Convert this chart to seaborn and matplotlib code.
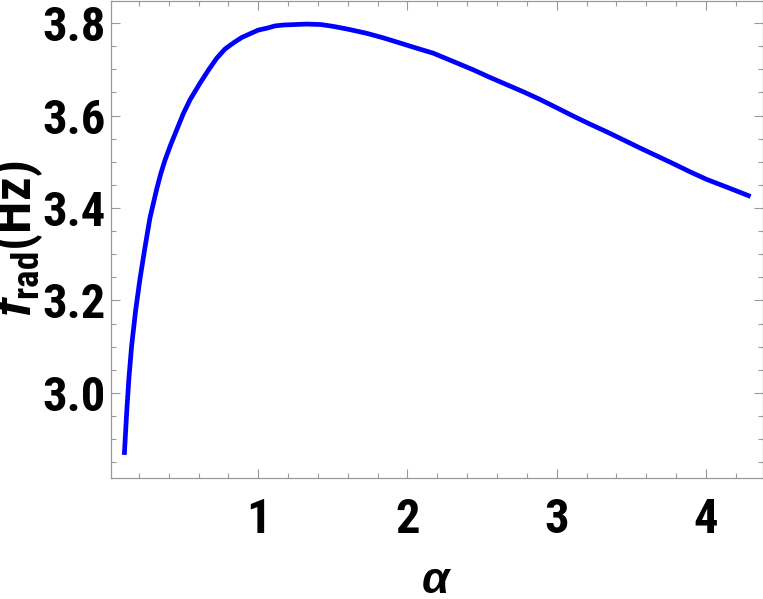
import numpy as np
import pandas as pd
import matplotlib
matplotlib.use("Agg")
import matplotlib.pyplot as plt
import seaborn as sns
from matplotlib import font_manager
from matplotlib.ticker import MultipleLocator

alpha = [0.102, 0.118, 0.133, 0.151, 0.178, 0.207, 0.241, 0.274, 0.319, 0.346,
         0.375, 0.414, 0.453, 0.497, 0.542, 0.609, 0.665, 0.721, 0.777, 0.832,
         0.889, 0.944, 1.000, 1.056, 1.112, 1.168, 1.246, 1.324, 1.420, 1.503,
         1.600, 1.727, 1.840, 1.950, 2.060, 2.173, 2.300, 2.441, 2.550, 2.665,
         2.780, 2.888, 3.000, 3.111, 3.220, 3.335, 3.450, 3.558, 3.670, 3.782,
         3.890, 4.005, 4.150, 4.300]
f_rad = [2.866, 2.959, 3.033, 3.102, 3.179, 3.247, 3.316, 3.379, 3.441, 3.474,
         3.504, 3.538, 3.569, 3.604, 3.634, 3.670, 3.698, 3.724, 3.744, 3.757,
         3.769, 3.777, 3.785, 3.789, 3.794, 3.796, 3.797, 3.798, 3.797, 3.793,
         3.787, 3.778, 3.768, 3.757, 3.746, 3.735, 3.718, 3.699, 3.683, 3.667,
         3.651, 3.635, 3.617, 3.599, 3.582, 3.565, 3.547, 3.530, 3.513, 3.496,
         3.479, 3.462, 3.444, 3.425]
x_ticks = [1, 2, 3, 4]
y_ticks = [3.0, 3.2, 3.4, 3.6, 3.8]
y_tick_labels = ["3.0", "3.2", "3.4", "3.6", "3.8"]

sns.set_style("ticks")
names = {f.name for f in font_manager.fontManager.ttflist}
narrow = "Liberation Sans"
for cand in ["Liberation Sans Narrow", "Roboto Condensed", "Arimo Narrow",
             "Barlow Semi Condensed", "Asap Condensed"]:
    if cand in names:
        narrow = cand
        break
plt.rcParams["font.family"] = [narrow, "Liberation Sans", "DejaVu Sans"]
plt.rcParams["text.color"] = "black"
plt.rcParams["axes.labelcolor"] = "black"
plt.rcParams["xtick.labelcolor"] = "black"
plt.rcParams["ytick.labelcolor"] = "black"
plt.rcParams["mathtext.fontset"] = "custom"
plt.rcParams["mathtext.rm"] = narrow + ":bold"
plt.rcParams["mathtext.bf"] = narrow + ":bold"
plt.rcParams["mathtext.it"] = "Liberation Sans:italic:bold"

df = pd.DataFrame({"alpha": alpha, "f": f_rad})

fig = plt.figure(figsize=(7.63, 5.99), dpi=100)
ax = fig.add_axes([111.3 / 763, 1 - 478 / 599, (762.7 - 111.3) / 763, (478 - 0.5) / 599])
sns.lineplot(data=df, x="alpha", y="f", ax=ax, color="#0000FF", linewidth=3.4)
for ln in ax.get_lines():
    ln.set_solid_joinstyle("round")
    ln.set_solid_capstyle("butt")

ax.set_xlim(0.0147, 4.381)
ax.set_ylim(2.816, 3.849)
ax.set_xticks(x_ticks)
ax.set_xticklabels([str(t) for t in x_ticks])
ax.set_yticks(y_ticks)
ax.set_yticklabels(y_tick_labels)
ax.xaxis.set_minor_locator(MultipleLocator(0.2))
ax.yaxis.set_minor_locator(MultipleLocator(0.05))
ax.tick_params(which="both", direction="in", top=True, right=True, color="#999999", width=0.8)
ax.tick_params(which="major", length=6.5)
ax.tick_params(which="minor", length=3.5)
ax.tick_params(axis="x", which="major", pad=14, labelsize=35)
ax.tick_params(axis="y", which="major", pad=4, labelsize=35)
for lbl in ax.get_xticklabels() + ax.get_yticklabels():
    lbl.set_fontweight("bold")
for s in ax.spines.values():
    s.set_color("#999999")
    s.set_linewidth(0.9)

ax.set_xlabel(r"$\alpha$", fontsize=32)
ax.xaxis.set_label_coords(0.5, -0.172)
ax.set_ylabel(r"$f_{\mathrm{rad}}\mathrm{(Hz)}$", fontsize=38)
ax.yaxis.set_label_coords(-0.102, 0.5)

fig.savefig("out.png", dpi=100)
